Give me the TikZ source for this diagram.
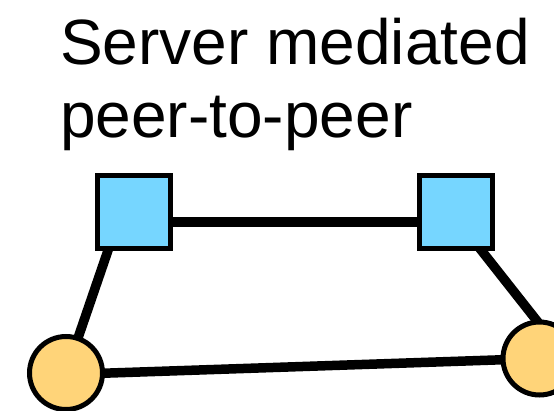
\documentclass[tikz,border=0pt]{standalone}
\usepackage{fontspec}
\setmainfont{Liberation Sans}
\usetikzlibrary{backgrounds,calc}
\definecolor{sky}{HTML}{76D6FF}
\definecolor{cantaloupe}{HTML}{FFD479}
\tikzset{
  server/.style={draw=black, line width=5pt, fill=sky, rectangle,
    minimum size=73pt, inner sep=0pt},
  peer/.style={draw=black, line width=5pt, fill=cantaloupe, circle,
    minimum size=73pt, inner sep=0pt},
  link/.style={draw=black, line width=9.5pt},
  title/.style={anchor=base west, inner sep=0pt,
    font=\fontsize{64pt}{73pt}\selectfont}
}
\begin{document}
\begin{tikzpicture}[x=1pt, y=1pt]
  \useasboundingbox (0,0) rectangle (554,-411);

  % heading
  \node[title] (t1) at (60,-65) {Server mediated};
  \node[title] (t2) at (60,-138) {peer-to-peer};

  % servers and peers
  \node[server] (s1) at (133.5,-212.5) {};
  \node[server] (s2) at (456,-212.5) {};
  \node[peer] (c1) at (66,-373) {};
  \node[peer] (c2) at (539.5,-358.5) {};

  % links, kept behind the nodes
  \begin{scope}[on background layer]
    \draw[link] ([yshift=-9.5pt]s1.east) -- ([yshift=-9.5pt]s2.west);
    \draw[link] ([xshift=-12.5pt]s1.center) -- (c1.center);
    \draw[link] ([xshift=-4.5pt]s2.center) -- ($(c2.center)+(12.5,18.5)$);
    \draw[link] ([yshift=-1.5pt]c1.center) -- (c2.center);
  \end{scope}
\end{tikzpicture}
\end{document}
